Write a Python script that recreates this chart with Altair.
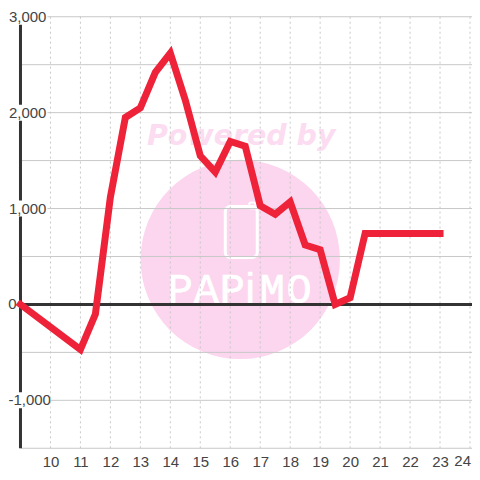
import altair as alt
import pandas as pd

hours = [9, 11, 11.5, 12, 12.5, 13, 13.5, 14, 14.5, 15, 15.5, 16, 16.5, 17, 17.5, 18, 18.5, 19, 19.5, 20, 20.5, 21, 21.5, 22, 22.5, 23]
values = [0, -470, -100, 1120, 1950, 2050, 2420, 2620, 2130, 1550, 1380, 1700, 1650, 1030, 940, 1070, 620, 570, 0, 70, 740, 740, 740, 740, 740, 740]
x_ticks = list(range(10, 25))
x_axis_ticks = list(range(10, 24))
last_tick = ["24"]
y_grid = [-1500, -1000, -500, 0, 500, 1000, 1500, 2000, 2500, 3000]
y_label_values = [3000, 2000, 1000, -1000]
y_label_texts = ["3,000", "2,000", "1,000", "-1,000"]
brand_letters = ["P", "A", "P", "i", "M", "O"]
brand_x = [160, 186, 212, 230, 252, 279]
brand_fonts = ["Liberation Mono", "Liberation Mono", "Liberation Mono", "Liberation Sans", "Liberation Mono", "Liberation Mono"]

TEXT = "#444444"
GRID = "#c8c8c8"
DARK = "#333333"
PINK = "#fcd5ee"
RED = "#ee2238"

xs = alt.Scale(domain=[9, 24 + 1 / 15], nice=False, zero=False)
ys = alt.Scale(domain=[-1500, 3000], nice=False, zero=False)
x_axis = alt.Axis(values=x_axis_ticks, grid=False, domain=False, ticks=False, labelFont="Liberation Sans",
                  labelFontSize=15, labelColor=TEXT, labelPadding=6, format="d", labelFlush=False,
                  labelOverlap=False)
X = lambda f: alt.X(f, type="quantitative", scale=xs, title=None, axis=x_axis)
Y = lambda f: alt.Y(f, type="quantitative", scale=ys, axis=None, title=None)

anchor = pd.DataFrame({"a": [0]})
line_df = pd.DataFrame({"h": hours, "v": values})
vgrid_df = pd.DataFrame({"h": x_ticks})
hgrid_df = pd.DataFrame({"v": y_grid})
lab_df = pd.DataFrame({"v": y_label_values, "t": y_label_texts})

circle = alt.Chart(anchor).mark_point(filled=True, shape="circle", size=39800, color=PINK, opacity=1).encode(
    x=alt.value(220), y=alt.value(243))
powered = alt.Chart(anchor).mark_text(
    text="Powered by", font="DejaVu Sans", fontWeight="bold", fontStyle="italic",
    fontSize=28.5, color="#fcdcf1", align="center", baseline="alphabetic").encode(
    x=alt.value(221), y=alt.value(128))
phone = alt.Chart(anchor).mark_rect(fillOpacity=0, stroke="white", strokeWidth=3, cornerRadius=5).encode(
    x=alt.value(205), x2=alt.value(237), y=alt.value(190), y2=alt.value(241))
phone_tab = alt.Chart(anchor).mark_rect(fillOpacity=0, stroke="white", strokeWidth=2, cornerRadius=2).encode(
    x=alt.value(229), x2=alt.value(235), y=alt.value(186), y2=alt.value(192))
letters = [
    alt.Chart(anchor).mark_text(text=c, font=f, fontSize=42, color="white", stroke="white",
                                strokeWidth=0.7, align="center", baseline="alphabetic").encode(
        x=alt.value(px), y=alt.value(287))
    for c, px, f in zip(brand_letters, brand_x, brand_fonts)
]

hgrid = alt.Chart(hgrid_df).mark_rule(color=GRID, strokeWidth=1).encode(y=Y("v"))
vgrid = alt.Chart(vgrid_df).mark_rule(color=GRID, strokeWidth=1, strokeDash=[2, 3]).encode(x=X("h"))
y_axis = alt.Chart(anchor).mark_rule(color=DARK, strokeWidth=3).encode(x=alt.value(0), y=alt.value(0), y2=alt.value(432))
zero = alt.Chart(pd.DataFrame({"v": [0]})).mark_rule(color=DARK, strokeWidth=3).encode(y=Y("v"))

lab_bg = alt.Chart(lab_df[lab_df.v != -1000]).mark_rect(color="white", height=16).encode(
    y=Y("v"), x=alt.value(-12), x2=alt.value(27))
lab_bg_neg = alt.Chart(lab_df[lab_df.v == -1000]).mark_rect(color="white", height=16).encode(
    y=Y("v"), x=alt.value(-12), x2=alt.value(30))
lab_top = alt.Chart(lab_df[lab_df.v != -1000]).mark_text(
    font="Liberation Sans", fontSize=15, color=TEXT, align="right", baseline="middle").encode(
    y=Y("v"), x=alt.value(26), text="t:N")
lab_neg = alt.Chart(lab_df[lab_df.v == -1000]).mark_text(
    font="Liberation Sans", fontSize=15, color=TEXT, align="left", baseline="middle").encode(
    y=Y("v"), x=alt.value(-12), text="t:N")
lab_zero = alt.Chart(pd.DataFrame({"v": [0], "t": ["0"]})).mark_text(
    font="Liberation Sans", fontSize=15, color=TEXT, align="right", baseline="middle").encode(
    y=Y("v"), x=alt.value(-4), text="t:N")
lab_last = alt.Chart(pd.DataFrame({"t": last_tick})).mark_text(
    font="Liberation Sans", fontSize=15, color=TEXT, align="right", baseline="middle").encode(
    x=alt.value(451), y=alt.value(445), text="t:N")

line = alt.Chart(line_df).mark_line(color=RED, strokeWidth=7, strokeCap="square", strokeJoin="miter").encode(
    x=X("h"), y=Y("v"))

chart = alt.layer(circle, powered, phone, phone_tab, *letters, hgrid, vgrid, y_axis, zero,
                  lab_bg, lab_bg_neg, lab_top, lab_neg, lab_zero, lab_last, line).properties(
    width=452, height=432,
    autosize=alt.AutoSizeParams(type="none"),
    padding={"left": 12.5, "top": 8.5, "right": 0, "bottom": 22},
).configure_view(stroke=None)

chart.save("out.html", embed_options={"renderer": "svg", "actions": False})
